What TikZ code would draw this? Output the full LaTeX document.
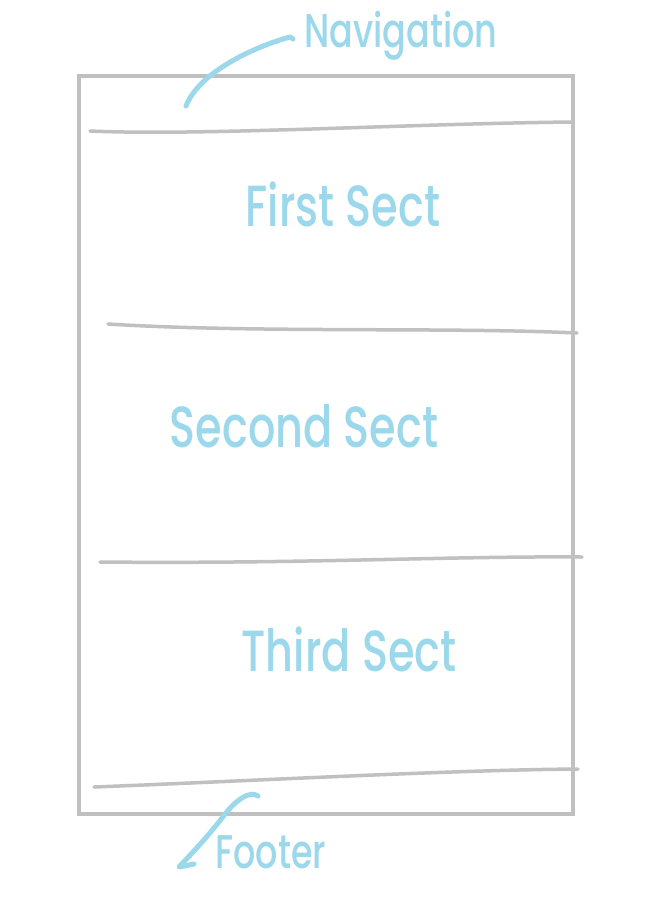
\documentclass[tikz,border=0pt]{standalone}
\usepackage{fontspec}
\setmainfont{Poppins}
\newfontfamily\medfont{Poppins Medium}
\usepackage{graphicx}
\definecolor{sketchgray}{RGB}{192,192,192}
\definecolor{sketchblue}{RGB}{155,216,235}
\newcommand{\tallify}[1]{\scalebox{1}[1.35]{#1}}
\tikzset{
  frame/.style={draw=sketchgray, line width=3.5pt},
  divider/.style={draw=sketchgray, line width=3.5pt, line cap=round},
  pointer/.style={draw=sketchblue, line width=5pt, line cap=round, line join=round},
  label/.style={text=sketchblue, font=\medfont\fontsize{43}{43}\selectfont, inner sep=0pt},
  smalllabel/.style={text=sketchblue, font=\medfont\fontsize{35}{35}\selectfont, inner sep=0pt}
}
\begin{document}
\begin{tikzpicture}[x=1pt,y=-1pt]
\useasboundingbox (0,0) rectangle (648,922);
\fill[white] (0,0) rectangle (648,922);
% page frame
\draw[frame] (79,76) rectangle (573,814);
% dividers
\draw[divider] (90,131) .. controls (200,136) and (400,124) .. (571,122);
\draw[divider] (108,324) .. controls (250,333) and (450,327) .. (577,333);
\draw[divider] (100,562) .. controls (300,564) and (450,556) .. (582,557);
\draw[divider] (94,787) .. controls (250,781) and (450,770) .. (578,769);
% labels
\node[smalllabel] (nav) at (401,36) {\tallify{Navigation}};
\node[label] (first) at (343,204) {\tallify{First Sect}};
\node[label] (second) at (304,426) {\tallify{Second Sect}};
\node[label] (third) at (349,649) {\tallify{Third Sect}};
\node[smalllabel] (footer) at (271,852) {\tallify{Footer}};
% pointers
\coordinate (navtip) at (186,106);
\coordinate (foottip) at (179,867);
\draw[pointer] (navtip) .. controls (200,70) and (260,45) .. (290,37) -- (293,39);
\draw[pointer] (258,796) .. controls (250,790) and (235,800) .. (222,818) .. controls (205,840) and (190,855) .. (foottip) -- (194,864);
\end{tikzpicture}
\end{document}
